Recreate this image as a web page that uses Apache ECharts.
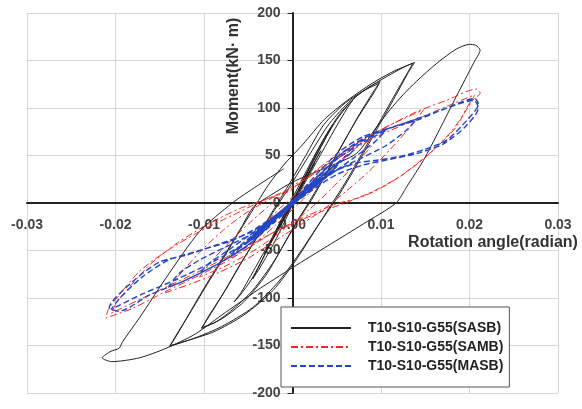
<!DOCTYPE html>
<html>
<head>
<meta charset="utf-8">
<script src="https://cdn.jsdelivr.net/npm/echarts@6/dist/echarts.min.js"></script>
<style>
  html, body { margin: 0; padding: 0; background: #fff; }
  #chart { width: 582px; height: 409px; }
</style>
</head>
<body>
<div id="chart"></div>
<script>
// 图例名称
var seriesNames = ['T10-S10-G55(SASB)', 'T10-S10-G55(SAMB)', 'T10-S10-G55(MASB)']

// 坐标轴范围
var xMin = -0.03, xMax = 0.03, xStep = 0.01
var yMin = -200, yMax = 200, yStep = 50

// [rotation(rad), moment(kN·m)] SASB
var sasbPoints = [
  [0, 0], [0.0015, 26], [0.0025, 42], [0.0018, 30], [0.0002, 4], [-0.0015, -25], [-0.0025, -42], [-0.0018, -31], [-0.0002, -4],
  [0.0016, 27], [0.0032, 55], [0.0024, 42], [0.0004, 8], [-0.0016, -26], [-0.0032, -54], [-0.0025, -43], [-0.0004, -8],
  [0.0018, 34], [0.0034, 62], [0.0045, 82], [0.0038, 72], [0.0022, 45], [0.0006, 16], [-0.0012, -16], [-0.003, -52], [-0.0045, -80], [-0.0038, -70], [-0.0022, -44], [-0.0006, -14],
  [0.0012, 24], [0.003, 56], [0.0048, 85], [0.006, 100], [0.0068, 108], [0.0062, 100], [0.0048, 78], [0.003, 48], [0.0012, 18], [-0.0008, -12], [-0.0028, -48], [-0.0046, -80], [-0.006, -98], [-0.0066, -104], [-0.0058, -94], [-0.0042, -68], [-0.0024, -38], [-0.0008, -10],
  [0.001, 20], [0.003, 58], [0.0052, 92], [0.0072, 112], [0.0088, 123], [0.0099, 128], [0.0092, 118], [0.0076, 94], [0.0058, 64], [0.004, 34], [0.0022, 4], [0.0008, -16], [-0.001, -44], [-0.003, -76], [-0.0055, -104], [-0.008, -122], [-0.0103, -132], [-0.0096, -122], [-0.008, -98], [-0.006, -66], [-0.004, -36], [-0.0022, -8],
  [-0.0005, 18], [0.0015, 50], [0.0035, 82], [0.0058, 104], [0.008, 118], [0.0098, 126], [0.0092, 116], [0.0074, 90], [0.0054, 58], [0.0036, 28], [0.0018, 0], [0.0002, -24], [-0.002, -60], [-0.0045, -92], [-0.007, -114], [-0.0088, -126], [-0.0102, -131], [-0.0094, -118], [-0.0076, -92], [-0.0056, -60], [-0.0036, -30], [-0.0018, -4],
  [0, 22], [0.002, 52], [0.0042, 84], [0.0066, 108], [0.009, 124], [0.0112, 136], [0.0128, 144], [0.0138, 148], [0.013, 136], [0.0116, 112], [0.0098, 82], [0.008, 52], [0.0064, 26], [0.0048, 2], [0.003, -22], [0.001, -50], [-0.0015, -82], [-0.0045, -110], [-0.008, -130], [-0.011, -142], [-0.0139, -151], [-0.0132, -140], [-0.0116, -116], [-0.0098, -88], [-0.0078, -58], [-0.006, -30], [-0.0044, -6],
  [-0.0028, 18], [-0.001, 40], [0.0012, 62], [0.0036, 88], [0.0062, 108], [0.009, 126], [0.0115, 139], [0.0136, 147], [0.0128, 134], [0.0112, 108], [0.0094, 78], [0.0076, 48], [0.006, 22], [0.0045, 0], [0.0026, -28], [0.0004, -60], [-0.0022, -92], [-0.0055, -118], [-0.009, -136], [-0.0138, -150], [-0.013, -138], [-0.0114, -112], [-0.0095, -82], [-0.0075, -52], [-0.0058, -26], [-0.0044, -4],
  [-0.0025, 8], [0, 22], [0.0035, 36], [0.0072, 52], [0.0095, 80], [0.011, 98], [0.0125, 114], [0.014, 128], [0.0163, 147], [0.0185, 162], [0.02, 167], [0.0207, 166], [0.0212, 161], [0.0205, 148], [0.0195, 130], [0.0185, 112], [0.0166, 77], [0.0148, 45], [0.0129, 17], [0.0117, 0], [0.008, -22], [0.004, -45], [0, -68], [-0.004, -92], [-0.008, -118], [-0.011, -138], [-0.0143, -153], [-0.0173, -163], [-0.0204, -167], [-0.0215, -163], [-0.0205, -156], [-0.0196, -153], [-0.0192, -146], [-0.0173, -121], [-0.0143, -79], [-0.0105, -30], [-0.0068, 0], [-0.004, 18], [-0.001, 36]
]

// SAMB
var sambPoints = [
  [0, 0], [0.002, 18], [0.004, 34], [0.0025, 22], [0.0005, 4], [-0.002, -16], [-0.004, -32], [-0.0025, -22], [-0.0005, -4],
  [0.002, 20], [0.0045, 42], [0.007, 60], [0.006, 50], [0.0035, 26], [0.001, 2], [-0.002, -24], [-0.0045, -44], [-0.007, -58], [-0.006, -48], [-0.0035, -24], [-0.001, -2],
  [0.002, 22], [0.005, 46], [0.008, 66], [0.0106, 80], [0.0095, 66], [0.007, 40], [0.0045, 16], [0.002, -6], [-0.001, -28], [-0.004, -48], [-0.0075, -66], [-0.0105, -78], [-0.0094, -64], [-0.007, -40], [-0.0045, -18], [-0.002, 2],
  [0.001, 22], [0.004, 44], [0.0075, 64], [0.011, 82], [0.0148, 98], [0.0135, 82], [0.011, 56], [0.0085, 32], [0.006, 12], [0.003, -10], [-0.001, -34], [-0.005, -58], [-0.0095, -78], [-0.0145, -95], [-0.013, -78], [-0.0105, -52], [-0.008, -30], [-0.0055, -12], [-0.003, 2],
  [0, 16], [0.0042, 42], [0.0072, 63], [0.0106, 80], [0.014, 96], [0.0174, 108], [0.0208, 120], [0.0212, 116], [0.02, 105], [0.0185, 80], [0.0163, 59], [0.0136, 38], [0.011, 21], [0.008, 7], [0.0053, 0], [0.002, -12], [-0.002, -30], [-0.0068, -58], [-0.0105, -76], [-0.0143, -93], [-0.0181, -111], [-0.0211, -121], [-0.0208, -112], [-0.0196, -97], [-0.0173, -72], [-0.0143, -51], [-0.0105, -30], [-0.0068, -13], [-0.0037, 1],
  [-0.001, 12], [0.002, 30], [0.006, 52], [0.01, 72], [0.014, 88], [0.0175, 102], [0.0206, 114], [0.0198, 100], [0.018, 76], [0.0155, 52], [0.0125, 30], [0.0095, 14], [0.0065, 2], [0.003, -10], [-0.001, -26], [-0.006, -50], [-0.011, -74], [-0.016, -96], [-0.0205, -116], [-0.0198, -104], [-0.0182, -86], [-0.016, -64], [-0.013, -42], [-0.0095, -22], [-0.006, -6], [-0.003, 4], [0, 14]
]

// MASB
var masbPoints = [
  [0, 0], [0.002, 16], [0.004, 30], [0.003, 22], [0.001, 6], [-0.002, -16], [-0.004, -30], [-0.003, -22], [-0.001, -6],
  [0.0025, 20], [0.005, 38], [0.0035, 26], [0.001, 6], [-0.0025, -20], [-0.005, -38], [-0.0035, -26], [-0.001, -6],
  [0.0022, 20], [0.0048, 40], [0.0036, 30], [0.0012, 10], [-0.0022, -18], [-0.0048, -40], [-0.0036, -30], [-0.0012, -10],
  [0.0028, 24], [0.0055, 44], [0.004, 34], [0.0014, 12], [-0.0028, -22], [-0.0055, -44], [-0.004, -33], [-0.0014, -12],
  [0.002, 18], [0.0045, 38], [0.007, 56], [0.0058, 46], [0.0035, 26], [0.001, 6], [-0.002, -18], [-0.0045, -38], [-0.007, -54], [-0.0058, -44], [-0.0035, -26], [-0.001, -6],
  [0.002, 20], [0.005, 46], [0.008, 64], [0.0105, 76], [0.0095, 66], [0.007, 48], [0.004, 28], [0.001, 6], [-0.002, -18], [-0.005, -44], [-0.008, -62], [-0.0105, -74], [-0.0095, -64], [-0.007, -48], [-0.004, -28], [-0.001, -6],
  [0.002, 18], [0.0053, 50], [0.008, 66], [0.011, 79], [0.014, 88], [0.0128, 76], [0.0105, 60], [0.0075, 46], [0.0042, 30], [0.001, 6], [-0.002, -20], [-0.005, -44], [-0.0086, -65], [-0.0125, -83], [-0.014, -88], [-0.0128, -74], [-0.0105, -60], [-0.0075, -46], [-0.0045, -32], [-0.001, -8],
  [0.0027, 30], [0.0053, 54], [0.008, 70], [0.011, 79], [0.014, 87], [0.0174, 100], [0.0206, 110], [0.021, 104], [0.0197, 87], [0.0174, 66], [0.0148, 56], [0.0121, 49], [0.0095, 45], [0.0072, 42], [0.0042, 31], [0.001, 8], [-0.002, -18], [-0.0049, -44], [-0.0086, -65], [-0.0125, -83], [-0.0162, -97], [-0.0196, -114], [-0.0207, -110], [-0.0181, -83], [-0.015, -62], [-0.012, -55], [-0.0086, -44], [-0.005, -32], [-0.002, -14],
  [0.002, 20], [0.005, 48], [0.008, 68], [0.012, 82], [0.016, 95], [0.0205, 108], [0.021, 100], [0.0195, 80], [0.017, 62], [0.014, 52], [0.011, 46], [0.008, 40], [0.005, 30], [0.002, 12], [-0.002, -16], [-0.005, -40], [-0.009, -62], [-0.013, -80], [-0.017, -96], [-0.0205, -112], [-0.0195, -100], [-0.017, -78], [-0.014, -60], [-0.0105, -50], [-0.007, -40], [-0.004, -26], [0, 0]
]

var fontName = '"Liberation Sans", Arial, sans-serif'

var myChart = echarts.init(document.getElementById('chart'))
myChart.setOption({
  animation: false,
  backgroundColor: '#fff',
  grid: { left: 27, right: 24, top: 13, bottom: 16, outerBoundsMode: 'none', containLabel: false },
  xAxis: {
    type: 'value',
    min: xMin,
    max: xMax,
    interval: xStep,
    position: 'bottom',
    offset: -190, // 移到 y=0 处
    axisLine: { onZero: false, lineStyle: { color: '#222', width: 2 } },
    axisTick: { show: false },
    axisLabel: {
      margin: 15,
      color: '#444',
      fontSize: 14,
      fontWeight: 'bold',
      fontFamily: fontName,
      formatter: function (v) { return v.toFixed(2) }
    },
    splitLine: { show: true, lineStyle: { color: '#d6d6d6', width: 1 } }
  },
  yAxis: {
    type: 'value',
    min: yMin,
    max: yMax,
    interval: yStep,
    position: 'left',
    offset: -265.5, // 移到 x=0 处
    axisLine: { show: true, onZero: false, lineStyle: { color: '#222', width: 2 } },
    axisTick: { show: true, inside: false, length: 5, lineStyle: { color: '#222' } },
    axisLabel: {
      margin: 12,
      color: '#444',
      fontSize: 14,
      fontWeight: 'bold',
      fontFamily: fontName
    },
    splitLine: { show: true, lineStyle: { color: '#d6d6d6', width: 1 } }
  },
  // 坐标轴名称
  graphic: [
    {
      type: 'text',
      x: 493,
      y: 243,
      style: {
        text: 'Rotation angle(radian)',
        font: 'bold 16px ' + fontName,
        fill: '#333',
        textAlign: 'center',
        textVerticalAlign: 'middle'
      },
      z: 10
    },
    {
      type: 'text',
      x: 234,
      y: 76,
      rotation: Math.PI / 2,
      style: {
        text: 'Moment(kN· m)',
        font: 'bold 16px ' + fontName,
        fill: '#333',
        textAlign: 'center',
        textVerticalAlign: 'middle'
      },
      z: 10
    }
  ],
  legend: {
    orient: 'vertical',
    left: 281,
    top: 307,
    padding: [14, 6, 14, 9],
    itemWidth: 60,
    itemHeight: 14,
    itemGap: 5,
    backgroundColor: '#fff',
    borderColor: '#555',
    borderWidth: 1,
    borderRadius: 0,
    itemStyle: { opacity: 0 },
    textStyle: {
      color: '#222',
      fontSize: 14,
      fontWeight: 'bold',
      fontFamily: fontName,
      padding: [0, 0, 0, 12]
    },
    data: seriesNames
  },
  series: [
    {
      name: seriesNames[0],
      type: 'line',
      symbol: 'none',
      smooth: 0.25,
      data: sasbPoints,
      lineStyle: { color: '#222', width: 1 },
      itemStyle: { color: '#222' }
    },
    {
      name: seriesNames[1],
      type: 'line',
      symbol: 'none',
      smooth: 0.25,
      data: sambPoints,
      lineStyle: { color: '#ee2a22', width: 1, type: [7, 3, 2, 3] },
      itemStyle: { color: '#ee2a22' }
    },
    {
      name: seriesNames[2],
      type: 'line',
      symbol: 'none',
      smooth: 0.25,
      data: masbPoints,
      lineStyle: { color: '#2446c4', width: 1.4, type: [6, 3] },
      itemStyle: { color: '#2446c4' }
    }
  ]
})
</script>
</body>
</html>
